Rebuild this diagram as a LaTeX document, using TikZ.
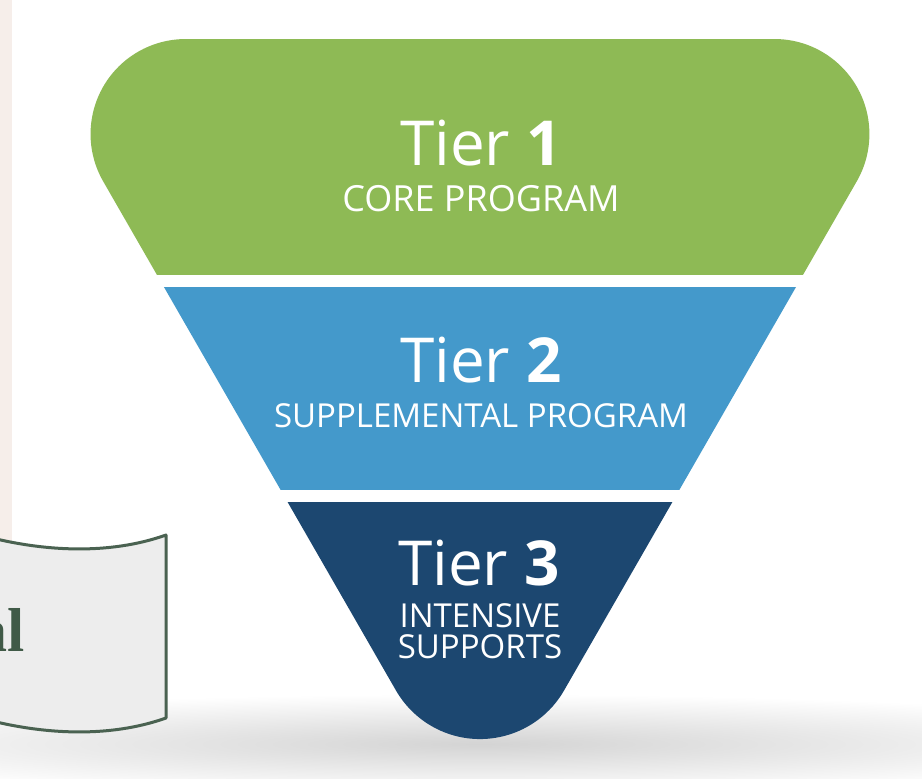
\documentclass[tikz,border=0pt]{standalone}
\usepackage{fontspec}
\setmainfont{Open Sans}
\newfontfamily\boxfont{Liberation Serif}
\definecolor{tiergreen}{HTML}{8EBA55}
\definecolor{tierblue}{HTML}{4499CB}
\definecolor{tiernavy}{HTML}{1C4770}
\definecolor{stripcol}{HTML}{F6EEEA}
\definecolor{boxline}{HTML}{4A6251}
\definecolor{boxfill}{HTML}{EDEDED}
\definecolor{boxtext}{HTML}{405A47}
\begin{document}
\begin{tikzpicture}[x=1pt,y=-1pt,
  tiertitle/.style={text=white, font=\fontsize{62}{62}\selectfont, anchor=base, inner sep=0pt},
  tiersub/.style={text=white, font=\fontsize{33}{33}\selectfont, anchor=base, inner sep=0pt},
  tapebox/.style={draw=boxline, fill=boxfill, line width=3pt, line join=round}]
\useasboundingbox (0,0) rectangle (922,779);
\fill[white] (0,0) rectangle (922,779);
\fill[stripcol] (0,0) rectangle (12,779);
\shade[inner color=black!17, outer color=white] (480,744) ellipse [x radius=760, y radius=50];
\begin{scope}
  \clip (185.6,39) -- (774.4,39) arc[start angle=-90, end angle=29.9, radius=95]
    -- (564.1,690.4) arc[start angle=29.9, end angle=150.1, radius=97]
    -- (103.2,181.4) arc[start angle=150.1, end angle=270, radius=95] -- cycle;
  \fill[tiergreen] (0,0) rectangle (922,274.5);
  \fill[tierblue] (0,287) rectangle (922,490);
  \fill[tiernavy] (0,502) rectangle (922,779);
\end{scope}
\node[tiertitle] (t1) at (481,165) {Tier \textbf{1}};
\node[tiersub, font=\fontsize{36}{36}\selectfont] (s1) at (481,211) {CORE PROGRAM};
\node[tiertitle] (t2) at (481,382) {Tier \textbf{2}};
\node[tiersub] (s2) at (481,427) {SUPPLEMENTAL PROGRAM};
\node[tiertitle] (t3) at (479,585) {Tier \textbf{3}};
\node[tiersub] (s3a) at (480,627) {INTENSIVE};
\node[tiersub] (s3b) at (480,658) {SUPPORTS};
\draw[tapebox] (-30,532) .. controls (40,553) and (110,555) .. (166,535)
  -- (166,718) .. controls (110,738) and (40,736) .. (-30,715) -- cycle;
\node[anchor=base east, inner sep=0pt, text=boxtext, font=\boxfont\bfseries\fontsize{62}{62}\selectfont] (boxtxt) at (25,651) {al};
\end{tikzpicture}
\end{document}
